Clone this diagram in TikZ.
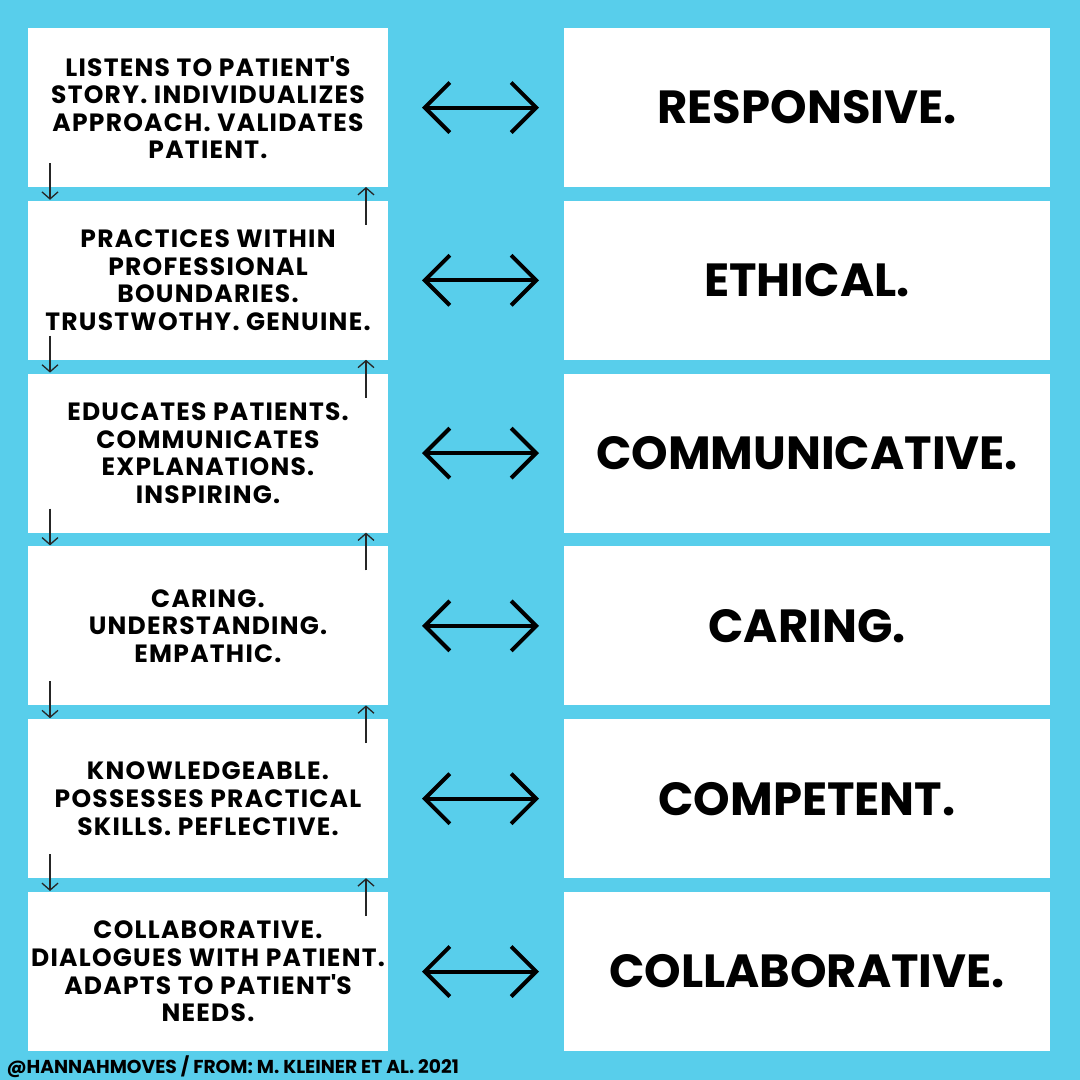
\documentclass[tikz,border=0pt]{standalone}
\usepackage{fontspec}
\setmainfont{Poppins}
\usetikzlibrary{arrows.meta,positioning}
\definecolor{skyblue}{RGB}{88,206,235}

\begin{document}
\begin{tikzpicture}[x=1pt, y=-1pt, node distance=13.8pt and 176pt,
  lbox/.style={fill=white, minimum width=360pt, minimum height=159pt, inner sep=0pt, outer sep=0pt, align=center, font=\fontsize{25}{27.6}\selectfont\bfseries\addfontfeatures{LetterSpace=5}},
  rbox/.style={fill=white, minimum width=486pt, minimum height=159pt, inner sep=0pt, outer sep=0pt, font=\fontsize{46.5}{54}\selectfont\bfseries},
  both/.style={line width=4pt, {Straight Barb[length=25pt,width=50pt]}-{Straight Barb[length=25pt,width=50pt]}},
  flow/.style={line width=1.3pt, draw=black!85, -{Straight Barb[length=7pt,width=16pt]}}]
\fill[skyblue] (0,0) rectangle (1080,1080);
\useasboundingbox (0,0) rectangle (1080,1080);
% left column
\node[lbox, anchor=north west] (l1) at (28,28) {LISTENS TO PATIENT\textquotesingle S\\STORY. INDIVIDUALIZES\\APPROACH. VALIDATES\\PATIENT.};
\node[lbox, below=of l1] (l2) {PRACTICES WITHIN\\PROFESSIONAL\\BOUNDARIES.\\TRUSTWOTHY. GENUINE.};
\node[lbox, below=of l2] (l3) {EDUCATES PATIENTS.\\COMMUNICATES\\EXPLANATIONS.\\INSPIRING.};
\node[lbox, below=of l3] (l4) {CARING.\\UNDERSTANDING.\\EMPATHIC.};
\node[lbox, below=of l4] (l5) {KNOWLEDGEABLE.\\POSSESSES PRACTICAL\\SKILLS. PEFLECTIVE.};
\node[lbox, below=of l5] (l6) {COLLABORATIVE.\\DIALOGUES WITH PATIENT.\\ADAPTS TO PATIENT\textquotesingle S\\NEEDS.};
% right column
\node[rbox, right=of l1] (r1) {RESPONSIVE.};
\node[rbox, right=of l2] (r2) {ETHICAL.};
\node[rbox, right=of l3] (r3) {COMMUNICATIVE.};
\node[rbox, right=of l4] (r4) {CARING.};
\node[rbox, right=of l5] (r5) {COMPETENT.};
\node[rbox, right=of l6] (r6) {COLLABORATIVE.};
\node[anchor=base west, font=\fontsize{18.7}{20}\selectfont\bfseries] (credit) at (3,1073) {@HANNAHMOVES / FROM: M. KLEINER ET AL. 2021};
% arrows
\foreach \i in {1,...,6}
  \draw[both] ([xshift=34pt]l\i.east) -- ([xshift=-25pt]r\i.west);
\foreach \i/\j in {1/2,2/3,3/4,4/5,5/6} {
  \draw[flow] ([xshift=22pt,yshift=24pt]l\i.south west) -- ([xshift=22pt,yshift=1pt]l\j.north west);
  \draw[flow] ([xshift=-22pt,yshift=-24pt]l\j.north east) -- ([xshift=-22pt]l\i.south east);
}
\end{tikzpicture}
\end{document}
